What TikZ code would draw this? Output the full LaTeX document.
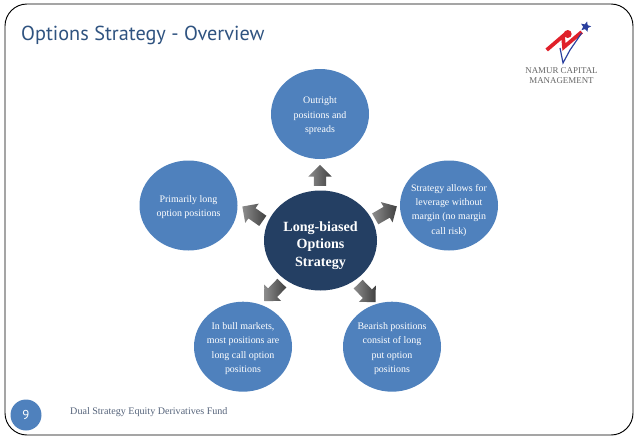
\documentclass[tikz,border=0pt]{standalone}
\usepackage{fontspec}
\setmainfont{Liberation Serif}
\newfontfamily\titlefont{PT Sans}
\usetikzlibrary{shapes.geometric}
\usetikzlibrary{shapes.arrows}
\definecolor{leafblue}{HTML}{4F81BD}
\definecolor{hubblue}{HTML}{243F63}
\definecolor{titleblue}{HTML}{2F5380}
\definecolor{footgray}{HTML}{55637A}
\definecolor{logored}{HTML}{E0202A}
\definecolor{logoblue}{HTML}{2A3F9E}
\newcommand{\unitpx}{*0.03cm}
\newcommand{\leafdrop}{\rule{0pt}{9pt}}
\tikzset{
  leaf/.style={ellipse,fill=leafblue,text=white,minimum width=98\unitpx,minimum height=90\unitpx,inner sep=-8pt,align=center,font=\fontsize{8.5}{12.2}\selectfont},
  hub/.style={ellipse,fill=hubblue,text=white,minimum width=113\unitpx,minimum height=100\unitpx,inner sep=-8pt,align=center,font=\fontsize{12}{15}\selectfont\bfseries},
  blockarrow/.style={single arrow,anchor=tail,draw=none,minimum height=25\unitpx,minimum width=23\unitpx,single arrow head extend=5.5\unitpx,inner xsep=2\unitpx,inner ysep=6\unitpx,left color=black!45,right color=black!75}
}
\begin{document}
\begin{tikzpicture}[x=0.03cm,y=-0.03cm]
  \useasboundingbox (0,0) rectangle (638,442);
  % slide frame
  \draw[thick,rounded corners=0.66cm] (5,4) rectangle (633,435);
  \node[anchor=west,text=titleblue,inner sep=0pt,font=\titlefont\fontsize{17.3}{20}\selectfont] (title) at (21,35) {Options Strategy - Overview};
  % circles
  \node[hub] (hub) at (320.5,240.5) {\rule{0pt}{17pt}Long-biased\\Options\\Strategy};
  \node[leaf] (top) at (320,114) {\leafdrop Outright\\positions and\\spreads};
  \node[leaf] (left) at (188.5,205.5) {\leafdrop Primarily long\\option positions};
  \node[leaf] (right) at (449,205.5) {\rule{0pt}{14pt}Strategy allows for\\leverage without\\margin (no margin\\call risk)};
  \node[leaf] (downl) at (243,346.7) {\leafdrop In bull markets,\\most positions are\\long call option\\positions};
  \node[leaf] (downr) at (392,346.7) {\leafdrop Bearish positions\\consist of long\\put option\\positions};
  % arrows
  \node[blockarrow,rotate=90,minimum height=21\unitpx] (atop) at (320,186) {};
  \node[blockarrow,rotate=145] (aleft) at (263,221) {};
  \node[blockarrow,rotate=30] (aright) at (375,219) {};
  \node[blockarrow,rotate=226] (adownl) at (282,283) {};
  \node[blockarrow,rotate=-46] (adownr) at (358,284) {};
  % logo
  \draw[logored,line width=3.2pt,line join=miter] (546.7,50) -- (563,36) -- (564,47) -- (581.7,32);
  \fill[logored] (567.7,34) circle[radius=4];
  \draw[logoblue,line width=1pt] (560,48) -- (563,63) -- (570,50) -- (581.7,33);
  \node[star,star points=5,star point ratio=2.2,fill=logoblue,minimum size=11\unitpx,inner sep=0pt,rotate=-15] (star) at (585.7,26.7) {};
  \node[align=center,inner sep=0pt,text=black!60,font=\fontsize{7.6}{8.6}\selectfont] (logo) at (561.5,76) {NAMUR CAPITAL\\MANAGEMENT};
  % footer
  \node[circle,fill=leafblue,text=white,minimum size=31\unitpx,inner sep=0pt,font=\titlefont\fontsize{11}{13}\selectfont] (page) at (26,415) {9};
  \node[anchor=west,text=footgray,inner sep=0pt,font=\fontsize{8.6}{10}\selectfont] (foot) at (70,412) {Dual Strategy Equity Derivatives Fund};
\end{tikzpicture}
\end{document}
